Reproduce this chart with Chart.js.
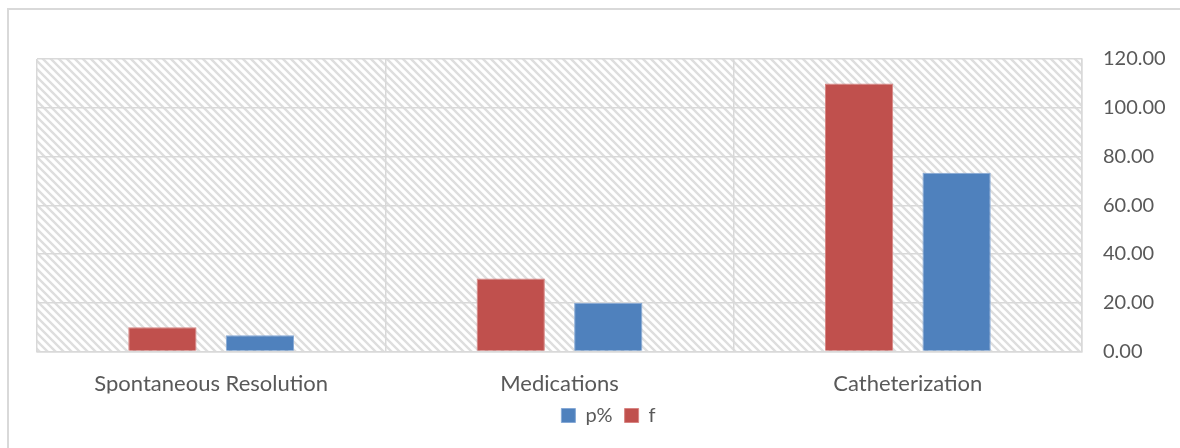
<!DOCTYPE html>
<html>
<head>
<meta charset="utf-8">
<script src="https://cdn.jsdelivr.net/npm/chart.js@4/dist/chart.umd.min.js"></script>
<style>
  html, body { margin: 0; padding: 0; background: #fff; overflow: hidden; }
  #wrap { position: relative; width: 1180px; height: 448px; }
  #frame { position: absolute; left: 7px; top: 8px; width: 1200px; height: 500px;
           border: 2px solid #d9d9d9; box-sizing: border-box; }
  canvas { position: absolute; left: 0; top: 0; }
</style>
</head>
<body>
<div id="wrap">
  <div id="frame"></div>
  <canvas id="c" width="1180" height="448"></canvas>
</div>
<script>
// Treatment outcome categories
const categories = ['Spontaneous Resolution', 'Medications', 'Catheterization'];
// Frequency (f) and percentage (p%) for each outcome
const fValues = [10, 30, 110];
const pValues = [6.67, 20, 73.33];
// Value axis range
const yMin = 0, yMax = 120, yStep = 20;

const textColor = '#595959';
const gridColor = '#d9d9d9';
const fontFamily = 'Lato, "Open Sans", sans-serif';

// Diagonal hatch used as the plot-area fill
function makeHatch(ctx) {
  const tile = document.createElement('canvas');
  tile.width = 8; tile.height = 8;
  const t = tile.getContext('2d');
  t.strokeStyle = '#dedede';
  t.lineWidth = 2.4;
  t.beginPath();
  for (const dx of [-8, 0, 8]) {
    t.moveTo(dx - 2, -2);
    t.lineTo(dx + 10, 10);
  }
  t.stroke();
  return ctx.createPattern(tile, 'repeat');
}

const hatchPlugin = {
  id: 'hatchFill',
  beforeDraw(chart) {
    const { ctx, chartArea: a } = chart;
    ctx.save();
    ctx.fillStyle = makeHatch(ctx);
    ctx.fillRect(a.left, a.top, a.right - a.left, a.bottom - a.top);
    ctx.restore();
  }
};

new Chart(document.getElementById('c'), {
  type: 'bar',
  data: {
    labels: categories,
    datasets: [
      { label: 'f', data: fValues, backgroundColor: '#C0504D',
        borderColor: '#d88583', borderWidth: 1 },
      { label: 'p%', data: pValues, backgroundColor: '#4F81BD',
        borderColor: '#86a9d6', borderWidth: 1 }
    ]
  },
  options: {
    responsive: false,
    animation: false,
    devicePixelRatio: 1,
    layout: { padding: { left: 37, top: 59, right: 0, bottom: 12.5 } },
    datasets: { bar: { categoryPercentage: 0.56, barPercentage: 0.70 } },
    plugins: {
      tooltip: { enabled: false },
      legend: {
        position: 'bottom',
        reverse: true,
        labels: {
          boxWidth: 14, boxHeight: 14, padding: 12,
          color: textColor,
          font: { family: fontFamily, size: 20 }
        }
      }
    },
    scales: {
      x: {
        grid: { color: gridColor, lineWidth: 1.5, drawTicks: false, offset: true },
        border: { color: gridColor, width: 1.5 },
        ticks: { color: textColor, padding: 19, font: { family: fontFamily, size: 22 } },
        afterFit(s) { s.height = 42; }
      },
      y: {
        position: 'right',
        min: yMin, max: yMax,
        grid: { color: gridColor, lineWidth: 1.5, drawTicks: false },
        border: { color: gridColor, width: 1.5 },
        ticks: {
          stepSize: yStep, padding: 21, color: textColor,
          font: { family: fontFamily, size: 20 },
          callback: v => Number(v).toFixed(2)
        },
        afterFit(s) { s.width = 98; }
      }
    }
  },
  plugins: [hatchPlugin]
});
</script>
</body>
</html>
